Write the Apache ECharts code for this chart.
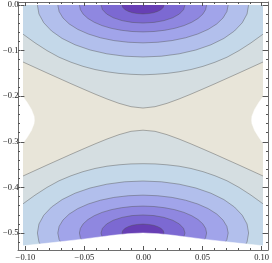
<!DOCTYPE html>
<html>
<head>
<meta charset="utf-8">
<script src="https://cdn.jsdelivr.net/npm/echarts@6/dist/echarts.min.js"></script>
<style>html,body{margin:0;padding:0;background:#fff}#c{width:272px;height:263px}</style>
</head>
<body>
<div id="c"></div>
<script>
// ---- data ----
const xTickValues = [-0.1, -0.05, 0, 0.05, 0.1];
const xTickLabels = ['\u22120.10', '\u22120.05', '0.00', '0.05', '0.10'];
const yTickValues = [-0.5, -0.4, -0.3, -0.2, -0.1, 0];
const yTickLabels = ['\u22120.5', '\u22120.4', '\u22120.3', '\u22120.2', '\u22120.1', '0.0'];

const xDomain = [-0.1, 0.1];
const yDomain = [-0.537, 0];

// contours around the upper well (innermost first)
const topC1 = [[-0.0175,0],[-0.0169,-0.0050],[-0.0152,-0.0098],[-0.0124,-0.0138],[-0.0088,-0.0169],[-0.0045,-0.0188],[0,-0.0195],[0.0045,-0.0188],[0.0088,-0.0169],[0.0124,-0.0138],[0.0152,-0.0098],[0.0169,-0.0050],[0.0175,0]];
const topC2 = [[-0.035,0],[-0.0338,-0.0102],[-0.0303,-0.0198],[-0.0248,-0.0279],[-0.0175,-0.0342],[-0.0091,-0.0382],[0,-0.0395],[0.0091,-0.0382],[0.0175,-0.0342],[0.0248,-0.0279],[0.0303,-0.0198],[0.0338,-0.0102],[0.035,0]];
const topC3 = [[-0.053,0],[-0.0522,-0.0102],[-0.0498,-0.0202],[-0.0459,-0.0295],[-0.0406,-0.0379],[-0.0341,-0.0452],[-0.0265,-0.0511],[-0.0181,-0.0554],[-0.0092,-0.0581],[0,-0.059],[0.0092,-0.0581],[0.0181,-0.0554],[0.0265,-0.0511],[0.0341,-0.0452],[0.0406,-0.0379],[0.0459,-0.0295],[0.0498,-0.0202],[0.0522,-0.0102],[0.053,0]];
const topC4 = [[-0.071,0],[-0.0699,-0.0144],[-0.0667,-0.0284],[-0.0615,-0.0415],[-0.0544,-0.0534],[-0.0456,-0.0636],[-0.0355,-0.0719],[-0.0243,-0.078],[-0.0123,-0.0817],[0,-0.083],[0.0123,-0.0817],[0.0243,-0.078],[0.0355,-0.0719],[0.0456,-0.0636],[0.0544,-0.0534],[0.0615,-0.0415],[0.0667,-0.0284],[0.0699,-0.0144],[0.071,0]];
const topC5 = [[-0.088,0],[-0.0867,-0.0198],[-0.0827,-0.039],[-0.0762,-0.057],[-0.0674,-0.0733],[-0.0566,-0.0873],[-0.044,-0.0987],[-0.0301,-0.1071],[-0.0153,-0.1123],[0,-0.114],[0.0153,-0.1123],[0.0301,-0.1071],[0.044,-0.0987],[0.0566,-0.0873],[0.0674,-0.0733],[0.0762,-0.057],[0.0827,-0.039],[0.0867,-0.0198],[0.088,0]];
const topC6 = [[-0.1,-0.064],[-0.09,-0.083],[-0.08,-0.1],[-0.07,-0.1145],[-0.06,-0.1255],[-0.05,-0.1345],[-0.04,-0.1415],[-0.03,-0.1465],[-0.02,-0.15],[-0.01,-0.152],[0,-0.153],[0.01,-0.152],[0.02,-0.15],[0.03,-0.1465],[0.04,-0.1415],[0.05,-0.1345],[0.06,-0.1255],[0.07,-0.1145],[0.08,-0.1],[0.09,-0.083],[0.1,-0.064]];
const topC7 = [[-0.1,-0.125],[-0.09,-0.137],[-0.08,-0.149],[-0.07,-0.1608],[-0.06,-0.1726],[-0.05,-0.1841],[-0.04,-0.1954],[-0.03,-0.2061],[-0.02,-0.2157],[-0.01,-0.223],[0,-0.226],[0.01,-0.223],[0.02,-0.2157],[0.03,-0.2061],[0.04,-0.1954],[0.05,-0.1841],[0.06,-0.1726],[0.07,-0.1608],[0.08,-0.149],[0.09,-0.137],[0.1,-0.125]];

// contours around the lower well (innermost first)
const botC1 = [[-0.0169,-0.505],[-0.0175,-0.5],[-0.0169,-0.495],[-0.0152,-0.4902],[-0.0124,-0.4862],[-0.0088,-0.4831],[-0.0045,-0.4812],[0,-0.4805],[0.0045,-0.4812],[0.0088,-0.4831],[0.0124,-0.4862],[0.0152,-0.4902],[0.0169,-0.495],[0.0175,-0.5],[0.0169,-0.505]];
const botC2 = [[-0.0303,-0.5198],[-0.0338,-0.5102],[-0.035,-0.5],[-0.0338,-0.4898],[-0.0303,-0.4802],[-0.0248,-0.4721],[-0.0175,-0.4658],[-0.0091,-0.4618],[0,-0.4605],[0.0091,-0.4618],[0.0175,-0.4658],[0.0248,-0.4721],[0.0303,-0.4802],[0.0338,-0.4898],[0.035,-0.5],[0.0338,-0.5102],[0.0303,-0.5198]];
const botC3 = [[-0.0498,-0.5202],[-0.0522,-0.5102],[-0.053,-0.5],[-0.0522,-0.4898],[-0.0498,-0.4798],[-0.0459,-0.4705],[-0.0406,-0.4621],[-0.0341,-0.4548],[-0.0265,-0.4489],[-0.0181,-0.4446],[-0.0092,-0.4419],[0,-0.441],[0.0092,-0.4419],[0.0181,-0.4446],[0.0265,-0.4489],[0.0341,-0.4548],[0.0406,-0.4621],[0.0459,-0.4705],[0.0498,-0.4798],[0.0522,-0.4898],[0.053,-0.5],[0.0522,-0.5102],[0.0498,-0.5202]];
const botC4 = [[-0.0667,-0.5284],[-0.0699,-0.5144],[-0.071,-0.5],[-0.0699,-0.4856],[-0.0667,-0.4716],[-0.0615,-0.4585],[-0.0544,-0.4466],[-0.0456,-0.4364],[-0.0355,-0.4281],[-0.0243,-0.422],[-0.0123,-0.4183],[0,-0.417],[0.0123,-0.4183],[0.0243,-0.422],[0.0355,-0.4281],[0.0456,-0.4364],[0.0544,-0.4466],[0.0615,-0.4585],[0.0667,-0.4716],[0.0699,-0.4856],[0.071,-0.5],[0.0699,-0.5144],[0.0667,-0.5284]];
const botC5 = [[-0.0827,-0.539],[-0.0867,-0.5198],[-0.088,-0.5],[-0.0867,-0.4802],[-0.0827,-0.461],[-0.0762,-0.443],[-0.0674,-0.4267],[-0.0566,-0.4127],[-0.044,-0.4013],[-0.0301,-0.3929],[-0.0153,-0.3877],[0,-0.386],[0.0153,-0.3877],[0.0301,-0.3929],[0.044,-0.4013],[0.0566,-0.4127],[0.0674,-0.4267],[0.0762,-0.443],[0.0827,-0.461],[0.0867,-0.4802],[0.088,-0.5],[0.0867,-0.5198],[0.0827,-0.539]];
const botC6 = [[-0.1,-0.436],[-0.09,-0.417],[-0.08,-0.4],[-0.07,-0.3855],[-0.06,-0.3745],[-0.05,-0.3655],[-0.04,-0.3585],[-0.03,-0.3535],[-0.02,-0.3505],[-0.01,-0.3485],[0,-0.348],[0.01,-0.3485],[0.02,-0.3505],[0.03,-0.3535],[0.04,-0.3585],[0.05,-0.3655],[0.06,-0.3745],[0.07,-0.3855],[0.08,-0.4],[0.09,-0.417],[0.1,-0.436]];
const botC7 = [[-0.1,-0.375],[-0.09,-0.363],[-0.08,-0.351],[-0.07,-0.3392],[-0.06,-0.3274],[-0.05,-0.3159],[-0.04,-0.3046],[-0.03,-0.2939],[-0.02,-0.2843],[-0.01,-0.277],[0,-0.2745],[0.01,-0.277],[0.02,-0.2843],[0.03,-0.2939],[0.04,-0.3046],[0.05,-0.3159],[0.06,-0.3274],[0.07,-0.3392],[0.08,-0.351],[0.09,-0.363],[0.1,-0.375]];

// edge of the plotted region (white outside)
const bottomEdge = [[-0.1,-0.528],[-0.075,-0.521],[-0.05,-0.5135],[-0.025,-0.505],[-0.0125,-0.5015],[0,-0.5],[0.0125,-0.5015],[0.025,-0.505],[0.05,-0.5135],[0.075,-0.521],[0.1,-0.528]];
const leftNotch = [[-0.1,-0.201],[-0.0965,-0.214],[-0.093,-0.229],[-0.0908,-0.244],[-0.0905,-0.252],[-0.0908,-0.26],[-0.093,-0.275],[-0.0965,-0.29],[-0.1,-0.303]];
const rightNotch = [[0.1,-0.201],[0.0965,-0.214],[0.093,-0.229],[0.0908,-0.244],[0.0905,-0.252],[0.0908,-0.26],[0.093,-0.275],[0.0965,-0.29],[0.1,-0.303]];

// band colours: outside outermost contour ... inside innermost contour
const bandColors = ['#e8e5d9', '#d5dee1', '#c4d8e9', '#b2bfec', '#a1a4ea', '#8f87e0', '#7c69d2', '#673fb4'];

// ---- build drawing list ----
const topContours = [topC1, topC2, topC3, topC4, topC5, topC6, topC7];
const botContours = [botC1, botC2, botC3, botC4, botC5, botC6, botC7];
const ops = [];
ops.push({kind: 'fill', color: bandColors[0], pts: [[xDomain[0], yDomain[1]], [xDomain[1], yDomain[1]], [xDomain[1], yDomain[0]], [xDomain[0], yDomain[0]]]});
for (let j = 6; j >= 0; j--) {
  const t = topContours[j], b = botContours[j];
  ops.push({kind: 'fill', color: bandColors[7 - j], pts: t.concat([[t[t.length - 1][0], yDomain[1]], [t[0][0], yDomain[1]]])});
  ops.push({kind: 'fill', color: bandColors[7 - j], pts: b.concat([[b[b.length - 1][0], yDomain[0]], [b[0][0], yDomain[0]]])});
}
for (let j = 6; j >= 0; j--) {
  ops.push({kind: 'line', pts: topContours[j]});
  ops.push({kind: 'line', pts: botContours[j]});
}
ops.push({kind: 'mask', pts: bottomEdge.concat([[0.101, -0.545], [-0.101, -0.545]])});
ops.push({kind: 'mask', pts: leftNotch.concat([[-0.102, -0.303], [-0.102, -0.201]])});
ops.push({kind: 'mask', pts: rightNotch.concat([[0.102, -0.303], [0.102, -0.201]])});

function renderItem(params, api) {
  const op = ops[params.dataIndex];
  const pts = op.pts.map(p => api.coord(p));
  if (op.kind === 'line') {
    return {type: 'polyline', z2: params.dataIndex, shape: {points: pts}, style: {fill: null, stroke: 'rgba(80,80,80,0.55)', lineWidth: 0.8}};
  }
  return {type: 'polygon', z2: params.dataIndex, shape: {points: pts}, style: {fill: op.kind === 'mask' ? '#ffffff' : op.color, stroke: op.kind === 'mask' ? '#ffffff' : null, lineWidth: 0.5}};
}

// ---- layout (pixels) ----
const pxPerX = 1200, pxPerY = 456;
const frame = {left: 18, right: 4, top: 2, bottom: 13};
const fmt = (vals, labs) => v => { const i = vals.findIndex(t => Math.abs(t - v) < 1e-9); return i >= 0 ? labs[i] : ''; };
const labelStyle = {fontFamily: 'Liberation Serif', fontSize: 8.5, color: '#222'};
const frameLine = {show: true, onZero: false, lineStyle: {color: '#6e6e6e', width: 1}};
const noLine = {show: false, onZero: false};
const majorTick = {inside: true, length: 4, lineStyle: {color: '#555', width: 1}};
const minorTickStyle = {inside: true, length: 2, lineStyle: {color: '#555', width: 1}};

const chart = echarts.init(document.getElementById('c'), null, {renderer: 'canvas'});
chart.setOption({
  animation: false,
  grid: [
    {left: frame.left, right: frame.right, top: frame.top, bottom: frame.bottom},
    {left: 23, right: 9, top: 5, bottom: 30},
    {left: 23, right: 9, top: 5, bottom: 263 - (5 + 0.52 * pxPerY)}
  ],
  xAxis: [
    {gridIndex: 0, type: 'value', position: 'bottom', min: -0.1 - 5 / pxPerX, max: 0.1 + 5 / pxPerX, axisLine: frameLine, axisTick: {show: false}, axisLabel: {show: false}, splitLine: {show: false}, z: 10},
    {gridIndex: 0, type: 'value', position: 'top', min: -0.1 - 5 / pxPerX, max: 0.1 + 5 / pxPerX, axisLine: frameLine, axisTick: {show: false}, axisLabel: {show: false}, splitLine: {show: false}, z: 10},
    {gridIndex: 1, type: 'value', position: 'bottom', offset: 17, min: -0.1, max: 0.1, interval: 0.05,
      axisLine: noLine, axisTick: majorTick,
      minorTick: {show: true, splitNumber: 5, length: 2, lineStyle: {color: '#555', width: 1}},
      axisLabel: Object.assign({margin: 3, formatter: fmt(xTickValues, xTickLabels)}, labelStyle),
      splitLine: {show: false}, minorSplitLine: {show: false}, z: 11},
    {gridIndex: 1, type: 'value', position: 'top', offset: 3, min: -0.1, max: 0.1, interval: 0.05,
      axisLine: noLine, axisTick: majorTick,
      minorTick: {show: true, splitNumber: 5, length: 2, lineStyle: {color: '#555', width: 1}},
      axisLabel: {show: false}, splitLine: {show: false}, minorSplitLine: {show: false}, z: 11},
    {gridIndex: 2, type: 'value', position: 'bottom', min: -0.1, max: 0.1, axisLine: noLine, axisTick: {show: false}, axisLabel: {show: false}, splitLine: {show: false}}
  ],
  yAxis: [
    {gridIndex: 0, type: 'value', position: 'left', min: -245 / pxPerY, max: 3 / pxPerY, axisLine: frameLine, axisTick: {show: false}, axisLabel: {show: false}, splitLine: {show: false}, z: 10},
    {gridIndex: 0, type: 'value', position: 'right', min: -245 / pxPerY, max: 3 / pxPerY, axisLine: frameLine, axisTick: {show: false}, axisLabel: {show: false}, splitLine: {show: false}, z: 10},
    {gridIndex: 1, type: 'value', position: 'left', offset: 5, min: -0.5, max: 0, interval: 0.1,
      axisLine: noLine, axisTick: majorTick,
      axisLabel: Object.assign({margin: 2, formatter: fmt(yTickValues, yTickLabels)}, labelStyle),
      splitLine: {show: false}, z: 11},
    {gridIndex: 1, type: 'value', position: 'right', offset: 5, min: -0.5, max: 0, interval: 0.1,
      axisLine: noLine, axisTick: majorTick,
      axisLabel: {show: false}, splitLine: {show: false}, z: 11},
    {gridIndex: 2, type: 'value', position: 'left', offset: 5, min: -0.52, max: 0, interval: 0.02,
      axisLine: noLine, axisTick: minorTickStyle,
      axisLabel: {show: false}, splitLine: {show: false}, z: 11},
    {gridIndex: 2, type: 'value', position: 'right', offset: 5, min: -0.52, max: 0, interval: 0.02,
      axisLine: noLine, axisTick: minorTickStyle,
      axisLabel: {show: false}, splitLine: {show: false}, z: 11}
  ],
  series: [{
    type: 'custom',
    xAxisIndex: 0, yAxisIndex: 0,
    renderItem: renderItem,
    data: ops.map(() => [0, -0.25]),
    silent: true,
    z: 2
  }]
});
</script>
</body>
</html>
